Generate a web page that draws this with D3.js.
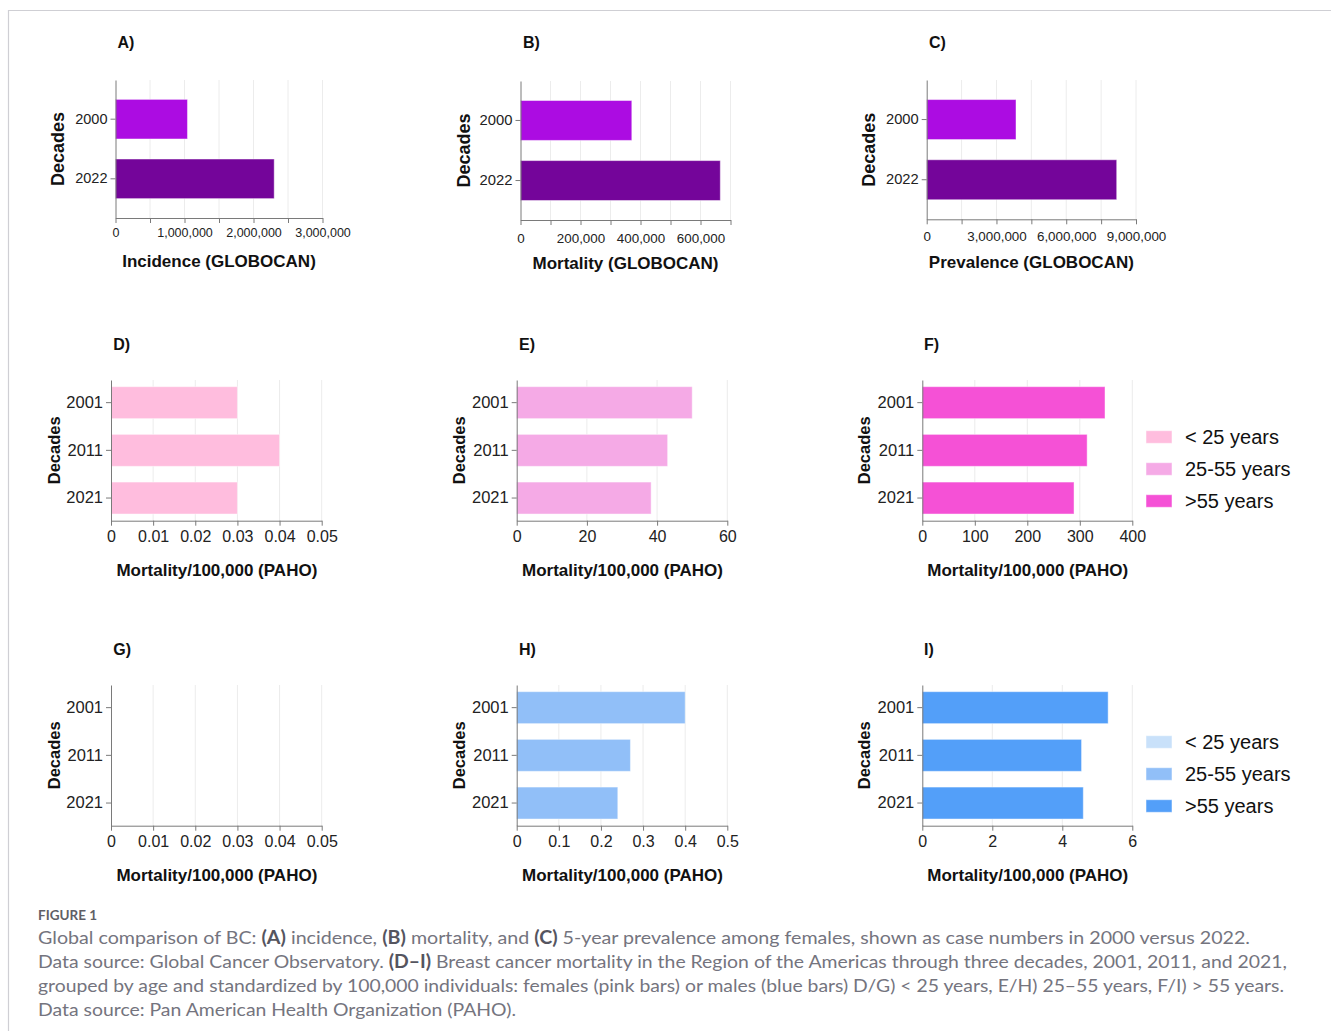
<!DOCTYPE html>
<html>
<head>
<meta charset="utf-8">
<script src="https://cdn.jsdelivr.net/npm/d3@7"></script>
<style>
  html, body { margin: 0; padding: 0; background: #fff; }
  svg { display: block; }
</style>
</head>
<body>
<svg id="chart" width="1331" height="1031"></svg>
<script>
// ---------------- DATA ----------------
const yearsGlobocan = ["2000", "2022"];
const incidence  = [1043000, 2300000];
const mortality  = [371000, 666000];
const prevalence = [3840000, 8170000];

const decadesPaho = ["2001", "2011", "2021"];
const femaleUnder25 = [0.03, 0.04, 0.03];
const female25to55  = [50, 43, 38.3];
const femaleOver55  = [348, 314, 289];
const maleUnder25   = [null, null, null];   // no data drawn
const male25to55    = [0.40, 0.27, 0.24];
const maleOver55    = [5.31, 4.55, 4.60];

const ageGroups = ["< 25 years", "25-55 years", ">55 years"];

const ticksIncidence  = [0, 500000, 1000000, 1500000, 2000000, 2500000, 3000000];
const labelsIncidence = [0, 1000000, 2000000, 3000000];
const ticksMortality  = [0, 100000, 200000, 300000, 400000, 500000, 600000, 700000];
const labelsMortality = [0, 200000, 400000, 600000];
const ticksPrevalence = [0, 1500000, 3000000, 4500000, 6000000, 7500000, 9000000];
const labelsPrevalence= [0, 3000000, 6000000, 9000000];
const ticksUnder25 = [0, 0.01, 0.02, 0.03, 0.04, 0.05];
const ticksF2555   = [0, 20, 40, 60];
const ticksFOver55 = [0, 100, 200, 300, 400];
const ticksM2555   = [0, 0.1, 0.2, 0.3, 0.4, 0.5];
const ticksMOver55 = [0, 2, 4, 6];

const globocanColors = ["#AC0CE2", "#74059A"];
const femaleColors = ["#FFBDDE", "#F5AAE6", "#F551D6"];
const maleColors   = ["#C9E1FA", "#91BFF8", "#539FF9"];

const captionLines = [
  [["Global comparison of BC: ", 0], ["(A)", 1], [" incidence, ", 0], ["(B)", 1], [" mortality, and ", 0], ["(C)", 1], [" 5-year prevalence among females, shown as case numbers in 2000 versus 2022.", 0]],
  [["Data source: Global Cancer Observatory. ", 0], ["(D\u2013I)", 1], [" Breast cancer mortality in the Region of the Americas through three decades, 2001, 2011, and 2021,", 0]],
  [["grouped by age and standardized by 100,000 individuals: females (pink bars) or males (blue bars) D/G) < 25 years, E/H) 25\u201355 years, F/I) > 55 years.", 0]],
  [["Data source: Pan American Health Organization (PAHO).", 0]]
];

// ---------------- DRAW ----------------
const svg = d3.select("#chart");
const FONT = "'Liberation Sans', Arial, Helvetica, sans-serif";
const AXIS_COLOR = "#7a7a7a";

svg.append("rect").attr("width", 1331).attr("height", 1031).attr("fill", "#fff");
// figure frame
svg.append("path").attr("d", "M8.5,1031 V10.5 H1331").attr("fill", "none").attr("stroke", "#cfcfd4").attr("stroke-width", 1.2);

const fmtComma = d3.format(",");
const fmtG = d3.format("~g");

function panel(cfg) {
  const g = svg.append("g");
  const x = d3.scaleLinear().domain(cfg.domain).range([cfg.x0, cfg.x1]);
  const y = d3.scaleBand().domain(cfg.cats).range([cfg.y0, cfg.y1])
    .paddingInner(cfg.pi).paddingOuter(cfg.po);

  // gridlines
  g.selectAll("line.grid").data(cfg.ticks.filter(d => d !== 0)).join("line")
    .attr("class", "grid")
    .attr("x1", d => x(d)).attr("x2", d => x(d))
    .attr("y1", cfg.y0).attr("y2", cfg.y1)
    .attr("stroke", "#ececec").attr("stroke-width", 1);

  // bars
  const rows = cfg.cats.map((c, i) => ({ c, v: cfg.values[i], i })).filter(d => d.v != null);
  g.selectAll("rect.bar").data(rows).join("rect")
    .attr("class", "bar")
    .attr("x", x(0))
    .attr("y", d => y(d.c))
    .attr("width", d => x(d.v) - x(0))
    .attr("height", y.bandwidth())
    .attr("fill", d => Array.isArray(cfg.color) ? cfg.color[d.i] : cfg.color)
    .attr("stroke", "rgba(255,255,255,0.45)")
    .attr("stroke-width", 1);

  // x axis
  const xa = d3.axisBottom(x).tickValues(cfg.ticks)
    .tickFormat(d => (cfg.labels.includes(d) ? cfg.fmt(d) : ""))
    .tickSize(5).tickSizeOuter(0).tickPadding(cfg.xPad);
  const gx = g.append("g").attr("transform", `translate(0,${cfg.y1})`).call(xa);
  gx.select(".domain").attr("stroke", AXIS_COLOR);
  gx.selectAll(".tick line").attr("stroke", AXIS_COLOR);
  gx.selectAll(".tick text").attr("font-family", FONT).attr("font-size", cfg.xFs).attr("fill", "#222");

  // y axis
  const ya = d3.axisLeft(y).tickSize(5).tickSizeOuter(0).tickPadding(3);
  const gy = g.append("g").attr("transform", `translate(${cfg.x0},0)`).call(ya);
  gy.select(".domain").attr("stroke", AXIS_COLOR);
  gy.selectAll(".tick line").attr("stroke", AXIS_COLOR);
  gy.selectAll(".tick text").attr("font-family", FONT).attr("font-size", cfg.yFs).attr("fill", "#222");

  // panel letter
  g.append("text").attr("x", cfg.letterX).attr("y", cfg.letterY + 5.8)
    .attr("font-family", FONT).attr("font-weight", "bold").attr("font-size", 16)
    .attr("fill", "#111").text(cfg.letter);

  // x title
  g.append("text").attr("x", (cfg.x0 + cfg.x1) / 2 + (cfg.titleDx || 0)).attr("y", cfg.titleY + 6)
    .attr("text-anchor", "middle")
    .attr("font-family", FONT).attr("font-weight", "bold").attr("font-size", 17)
    .attr("fill", "#111").text(cfg.title);

  // y title
  const yc = (cfg.y0 + cfg.y1) / 2;
  g.append("text")
    .attr("transform", `translate(${cfg.decX + 0.36 * cfg.decFs},${yc}) rotate(-90)`)
    .attr("text-anchor", "middle")
    .attr("font-family", FONT).attr("font-weight", "bold").attr("font-size", cfg.decFs)
    .attr("fill", "#111").text("Decades");
}

function legend(x0, yCenters, colors) {
  const g = svg.append("g");
  ageGroups.forEach((name, i) => {
    g.append("rect").attr("x", x0).attr("y", yCenters[i] - 6.3).attr("width", 26).attr("height", 12.6)
      .attr("fill", colors[i]).attr("stroke", "rgba(255,255,255,0.5)");
    g.append("text").attr("x", x0 + 39).attr("y", yCenters[i] + 7)
      .attr("font-family", FONT).attr("font-size", 20).attr("fill", "#111").text(name);
  });
}

const pad2 = { pi: 0.336, po: 0.325 };
const pad3 = { pi: 0.33, po: 0.14 };

// Row 1
panel({ ...pad2, cats: yearsGlobocan, values: incidence, color: globocanColors,
  domain: [0, 3000000], ticks: ticksIncidence, labels: labelsIncidence, fmt: fmtComma,
  x0: 115.5, x1: 322.5, y0: 80, y1: 218, xFs: 12.5, yFs: 14.5, xPad: 4.8,
  letter: "A)", letterX: 117.5, letterY: 42.5, title: "Incidence (GLOBOCAN)", titleY: 260.5, decX: 58, decFs: 18 });
panel({ ...pad2, cats: yearsGlobocan, values: mortality, color: globocanColors,
  domain: [0, 700000], ticks: ticksMortality, labels: labelsMortality, fmt: fmtComma,
  x0: 520.5, x1: 730.5, y0: 81, y1: 220, xFs: 13.4, yFs: 14.8, xPad: 8.4,
  letter: "B)", letterX: 523, letterY: 42.5, title: "Mortality (GLOBOCAN)", titleY: 262.7, decX: 464, decFs: 18 });
panel({ ...pad2, cats: yearsGlobocan, values: prevalence, color: globocanColors,
  domain: [0, 9000000], ticks: ticksPrevalence, labels: labelsPrevalence, fmt: fmtComma,
  x0: 926.7, x1: 1136, y0: 80, y1: 219.3, xFs: 13.4, yFs: 14.7, xPad: 6.8,
  letter: "C)", letterX: 929, letterY: 42.5, title: "Prevalence (GLOBOCAN)", titleY: 262.3, decX: 869, decFs: 18 });

// Row 2 (females) and Row 3 (males)
const rowY = [380, 685];
const rowData = [
  { vals: [femaleUnder25, female25to55, femaleOver55], colors: femaleColors, letters: ["D)", "E)", "F)"] },
  { vals: [maleUnder25, male25to55, maleOver55], colors: maleColors, letters: ["G)", "H)", "I)"] }
];
const colTicks = [
  [ticksUnder25, ticksF2555, ticksFOver55],
  [ticksUnder25, ticksM2555, ticksMOver55]
];
const colX = [[111, 321.7], [516.7, 727.3], [922.3, 1132.3]];
const letterX = [113.3, 519, 924];
const decX = [54, 459, 864];

rowData.forEach((row, r) => {
  const y0 = rowY[r];
  for (let c = 0; c < 3; c++) {
    const t = colTicks[r][c];
    panel({ ...pad3, cats: decadesPaho, values: row.vals[c], color: row.colors[c],
      domain: [t[0], t[t.length - 1]], ticks: t, labels: t, fmt: fmtG,
      x0: colX[c][0], x1: colX[c][1], y0: y0, y1: y0 + 140.7, xFs: 16, yFs: 16.5, xPad: 4.5,
      letter: row.letters[c], letterX: letterX[c], letterY: y0 - 35.5,
      title: "Mortality/100,000 (PAHO)", titleY: y0 + 189.5, titleDx: 0.5, decX: decX[c], decFs: 16.5 });
  }
  legend(1146, [y0 + 57, y0 + 89, y0 + 121], row.colors);
});

// ---------------- CAPTION ----------------
const CAP_FONT = "Lato, 'Open Sans', 'Noto Sans', sans-serif";
svg.append("text").attr("x", 38).attr("y", 920)
  .attr("font-family", CAP_FONT).attr("font-weight", 700).attr("font-size", 13.5)
  .attr("fill", "#5f5f66").text("FIGURE 1");

const lineEnds = [1250, 1287, 1284, 516];
captionLines.forEach((segs, i) => {
  const t = svg.append("text").attr("x", 38).attr("y", 944 + i * 24)
    .attr("font-family", CAP_FONT).attr("font-size", 18).attr("fill", "#74747e")
    .attr("textLength", lineEnds[i] - 38).attr("lengthAdjust", "spacingAndGlyphs");
  segs.forEach(([s, b]) => {
    t.append("tspan").attr("font-weight", b ? 700 : 400)
      .attr("fill", b ? "#55555f" : "#74747e").text(s);
  });
});
</script>
</body>
</html>
